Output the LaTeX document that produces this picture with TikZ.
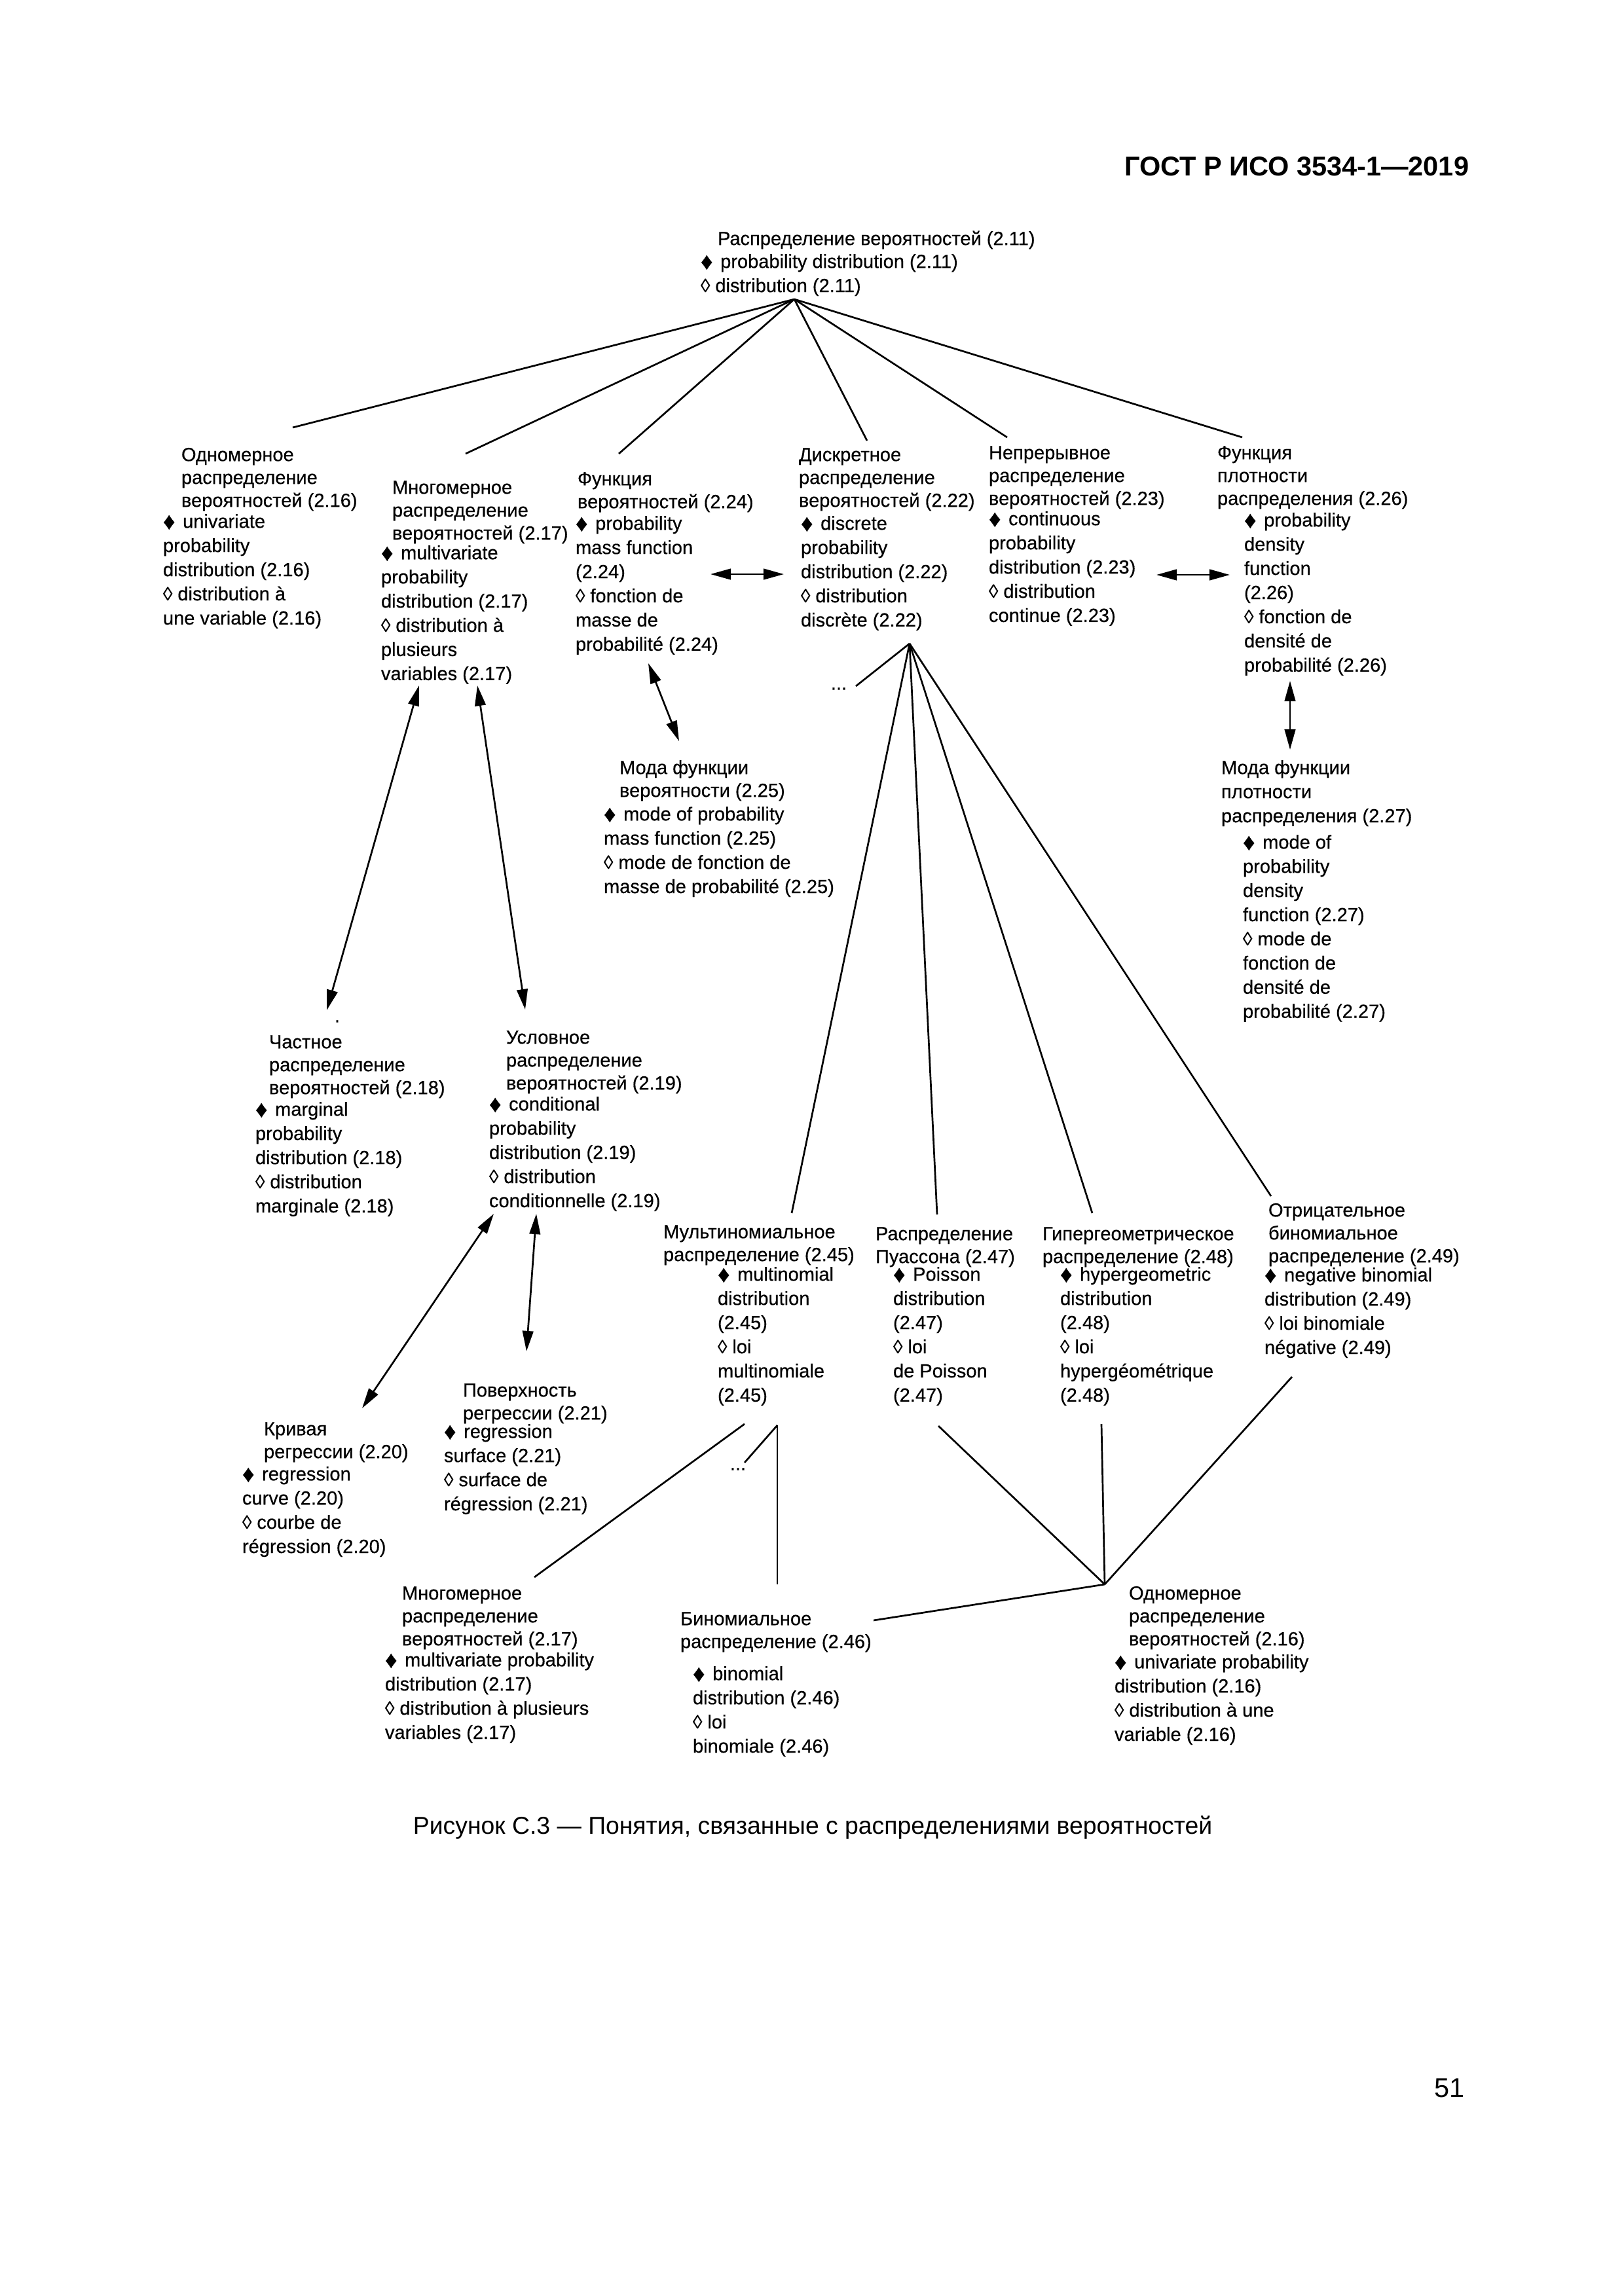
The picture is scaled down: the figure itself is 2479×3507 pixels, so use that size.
\documentclass[tikz,border=0pt]{standalone}
\usepackage{fontspec}
\setmainfont{Liberation Sans}
\newfontfamily\dg{Liberation Sans}[FakeBold=0.45]
\usetikzlibrary{arrows.meta}
\newcommand\tp{\rule{0pt}{5.6pt}}
\newcommand\fd{\raisebox{-0.15ex}{\scalebox{1.25}{\char"2666}}\hspace{0.4em}}
\newcommand\ld{\char"25CA\ }
\tikzset{
  ru/.style={anchor=north west, inner sep=0pt, outer sep=0pt, align=left, font=\fontsize{7pt}{8.43pt}\selectfont\dg},
  en/.style={anchor=north west, inner sep=0pt, outer sep=0pt, align=left, font=\fontsize{7pt}{8.9pt}\selectfont\dg},
  link/.style={line width=0.65pt},
  biarrow/.style={line width=0.65pt, {Triangle[length=7.5pt,width=4pt]}-{Triangle[length=7.5pt,width=4pt]}},
}
\begin{document}
\begin{tikzpicture}[x=0.084711mm, y=-0.084711mm]
\useasboundingbox (0,0) rectangle (2479,3507);

% header, caption, page number
\node[anchor=base east, inner sep=0pt, font=\fontsize{10pt}{12pt}\selectfont\bfseries] (hdr) at (2244,268) {ГОСТ Р ИСО 3534-1—2019};
\node[anchor=base, inner sep=0pt, font=\fontsize{9pt}{11pt}\selectfont] (cap) at (1241,2801) {Рисунок С.3 — Понятия, связанные с распределениями вероятностей};
\node[anchor=base east, inner sep=0pt, font=\fontsize{10pt}{12pt}\selectfont] (pg) at (2237,3203) {51};

% root
\node[ru] (rr) at (1096,351) {\tp Распределение вероятностей (2.11)};
\node[en] (re) at (1070,386) {\tp\fd probability distribution (2.11)\\\ld distribution (2.11)};

% first row
\node[ru] (a1r) at (277,681) {\tp Одномерное\\распределение\\вероятностей (2.16)};
\node[en] (a1e) at (249,783) {\tp\fd univariate\\probability\\distribution (2.16)\\\ld distribution à\\une variable (2.16)};

\node[ru] (a2r) at (599,731) {\tp Многомерное\\распределение\\вероятностей (2.17)};
\node[en] (a2e) at (582,831) {\tp\fd multivariate\\probability\\distribution (2.17)\\\ld distribution à\\plusieurs\\variables (2.17)};

\node[ru] (a3r) at (882,718) {\tp Функция\\вероятностей (2.24)};
\node[en] (a3e) at (879,786) {\tp\fd probability\\mass function\\(2.24)\\\ld fonction de\\masse de\\probabilité (2.24)};

\node[ru] (a4r) at (1220,681) {\tp Дискретное\\распределение\\вероятностей (2.22)};
\node[en] (a4e) at (1223,786) {\tp\fd discrete\\probability\\distribution (2.22)\\\ld distribution\\discrète (2.22)};

\node[ru] (a5r) at (1510,678) {\tp Непрерывное\\распределение\\вероятностей (2.23)};
\node[en] (a5e) at (1510,779) {\tp\fd continuous\\probability\\distribution (2.23)\\\ld distribution\\continue (2.23)};

\node[ru] (a6r) at (1859,678) {\tp Функция\\плотности\\распределения (2.26)};
\node[en] (a6e) at (1900,781) {\tp\fd probability\\density\\function\\(2.26)\\\ld fonction de\\densité de\\probabilité (2.26)};

% modes
\node[ru] (b1r) at (946,1159) {\tp Мода функции\\вероятности (2.25)};
\node[en] (b1e) at (922,1230) {\tp\fd mode of probability\\mass function (2.25)\\\ld mode de fonction de\\masse de probabilité (2.25)};

\node[en] (b2r) at (1865,1159) {\tp Мода функции\\плотности\\распределения (2.27)};
\node[en] (b2e) at (1898,1273) {\tp\fd mode of\\probability\\density\\function (2.27)\\\ld mode de\\fonction de\\densité de\\probabilité (2.27)};

% marginal / conditional
\node[inner sep=0pt, font=\fontsize{7pt}{8pt}\selectfont\dg] (dot) at (515,1560) {.};
\node[ru] (c1r) at (411,1578) {\tp Частное\\распределение\\вероятностей (2.18)};
\node[en] (c1e) at (390,1681) {\tp\fd marginal\\probability\\distribution (2.18)\\\ld distribution\\marginale (2.18)};

\node[ru] (c2r) at (773,1571) {\tp Условное\\распределение\\вероятностей (2.19)};
\node[en] (c2e) at (747,1673) {\tp\fd conditional\\probability\\distribution (2.19)\\\ld distribution\\conditionnelle (2.19)};

% regression
\node[ru] (d1r) at (403,2169) {\tp Кривая\\регрессии (2.20)};
\node[en] (d1e) at (370,2238) {\tp\fd regression\\curve (2.20)\\\ld courbe de\\régression (2.20)};

\node[ru] (d2r) at (707,2110) {\tp Поверхность\\регрессии (2.21)};
\node[en] (d2e) at (678,2173) {\tp\fd regression\\surface (2.21)\\\ld surface de\\régression (2.21)};

% discrete distributions
\node[ru] (e1r) at (1013,1868) {\tp Мультиномиальное\\распределение (2.45)};
\node[en] (e1e) at (1096,1933) {\tp\fd multinomial\\distribution\\(2.45)\\\ld loi\\multinomiale\\(2.45)};

\node[ru] (e2r) at (1337,1871) {\tp Распределение\\Пуассона (2.47)};
\node[en] (e2e) at (1364,1933) {\tp\fd Poisson\\distribution\\(2.47)\\\ld loi\\de Poisson\\(2.47)};

\node[ru] (e3r) at (1592,1871) {\tp Гипергеометрическое\\распределение (2.48)};
\node[en] (e3e) at (1619,1933) {\tp\fd hypergeometric\\distribution\\(2.48)\\\ld loi\\hypergéométrique\\(2.48)};

\node[ru] (e4r) at (1937,1835) {\tp Отрицательное\\биномиальное\\распределение (2.49)};
\node[en] (e4e) at (1931,1934) {\tp\fd negative binomial\\distribution (2.49)\\\ld loi binomiale\\négative (2.49)};

% bottom row
\node[ru] (f1r) at (614,2420) {\tp Многомерное\\распределение\\вероятностей (2.17)};
\node[en] (f1e) at (588,2522) {\tp\fd multivariate probability\\distribution (2.17)\\\ld distribution à plusieurs\\variables (2.17)};

\node[ru] (f2r) at (1039,2459) {\tp Биномиальное\\распределение (2.46)};
\node[en] (f2e) at (1058,2543) {\tp\fd binomial\\distribution (2.46)\\\ld loi\\binomiale (2.46)};

\node[ru] (f3r) at (1724,2420) {\tp Одномерное\\распределение\\вероятностей (2.16)};
\node[en] (f3e) at (1702,2525) {\tp\fd univariate probability\\distribution (2.16)\\\ld distribution à une\\variable (2.16)};

% ellipses
\node[inner sep=0pt, font=\fontsize{7pt}{8pt}\selectfont\dg] (el1) at (1281,1052) {...};
\node[inner sep=0pt, font=\fontsize{7pt}{8pt}\selectfont\dg] (el2) at (1127,2244) {...};

% connector points
\coordinate (rA) at (1213,457);
\coordinate (t1) at (447,653);
\coordinate (t2) at (711,693);
\coordinate (t3) at (945,693);
\coordinate (t4) at (1324,673);
\coordinate (t5) at (1538,668);
\coordinate (t6) at (1897,668);
\foreach \t in {t1,t2,t3,t4,t5,t6} \draw[link] (rA) -- (\t);

\coordinate (p1a) at (1085,877); \coordinate (p1b) at (1197,877);
\draw[biarrow] (p1a) -- (p1b);
\coordinate (p2a) at (1766,878); \coordinate (p2b) at (1878,878);
\draw[biarrow] (p2a) -- (p2b);
\coordinate (p3a) at (1970,1040); \coordinate (p3b) at (1970,1145);
\draw[biarrow] (p3a) -- (p3b);
\coordinate (p4a) at (990,1013); \coordinate (p4b) at (1037,1132);
\draw[biarrow] (p4a) -- (p4b);
\coordinate (p5a) at (640,1047); \coordinate (p5b) at (499,1543);
\draw[biarrow] (p5a) -- (p5b);
\coordinate (p6a) at (729,1047); \coordinate (p6b) at (802,1542);
\draw[biarrow] (p6a) -- (p6b);
\coordinate (p7a) at (754,1854); \coordinate (p7b) at (553,2151);
\draw[biarrow] (p7a) -- (p7b);
\coordinate (p8a) at (819,1854); \coordinate (p8b) at (804,2064);
\draw[biarrow] (p8a) -- (p8b);

% discrete fan
\coordinate (dA) at (1389,983);
\coordinate (u0) at (1307,1048);
\coordinate (u1) at (1209,1853);
\coordinate (u2) at (1431,1855);
\coordinate (u3) at (1668,1853);
\coordinate (u4) at (1941,1827);
\foreach \t in {u0,u1,u2,u3,u4} \draw[link] (dA) -- (\t);

% multinomial fan
\coordinate (mL) at (1137,2175); \coordinate (mLe) at (816,2409);
\draw[link] (mL) -- (mLe);
\coordinate (mA) at (1187,2177);
\coordinate (mS) at (1137,2234);
\coordinate (mV) at (1187,2420);
\draw[link] (mA) -- (mS);
\draw[link] (mA) -- (mV);

% univariate junction
\coordinate (uJ) at (1687,2420);
\coordinate (v1) at (1433,2178);
\coordinate (v2) at (1682,2175);
\coordinate (v3) at (1973,2103);
\coordinate (v4) at (1334,2475);
\foreach \t in {v1,v2,v3,v4} \draw[link] (uJ) -- (\t);
\end{tikzpicture}
\end{document}
